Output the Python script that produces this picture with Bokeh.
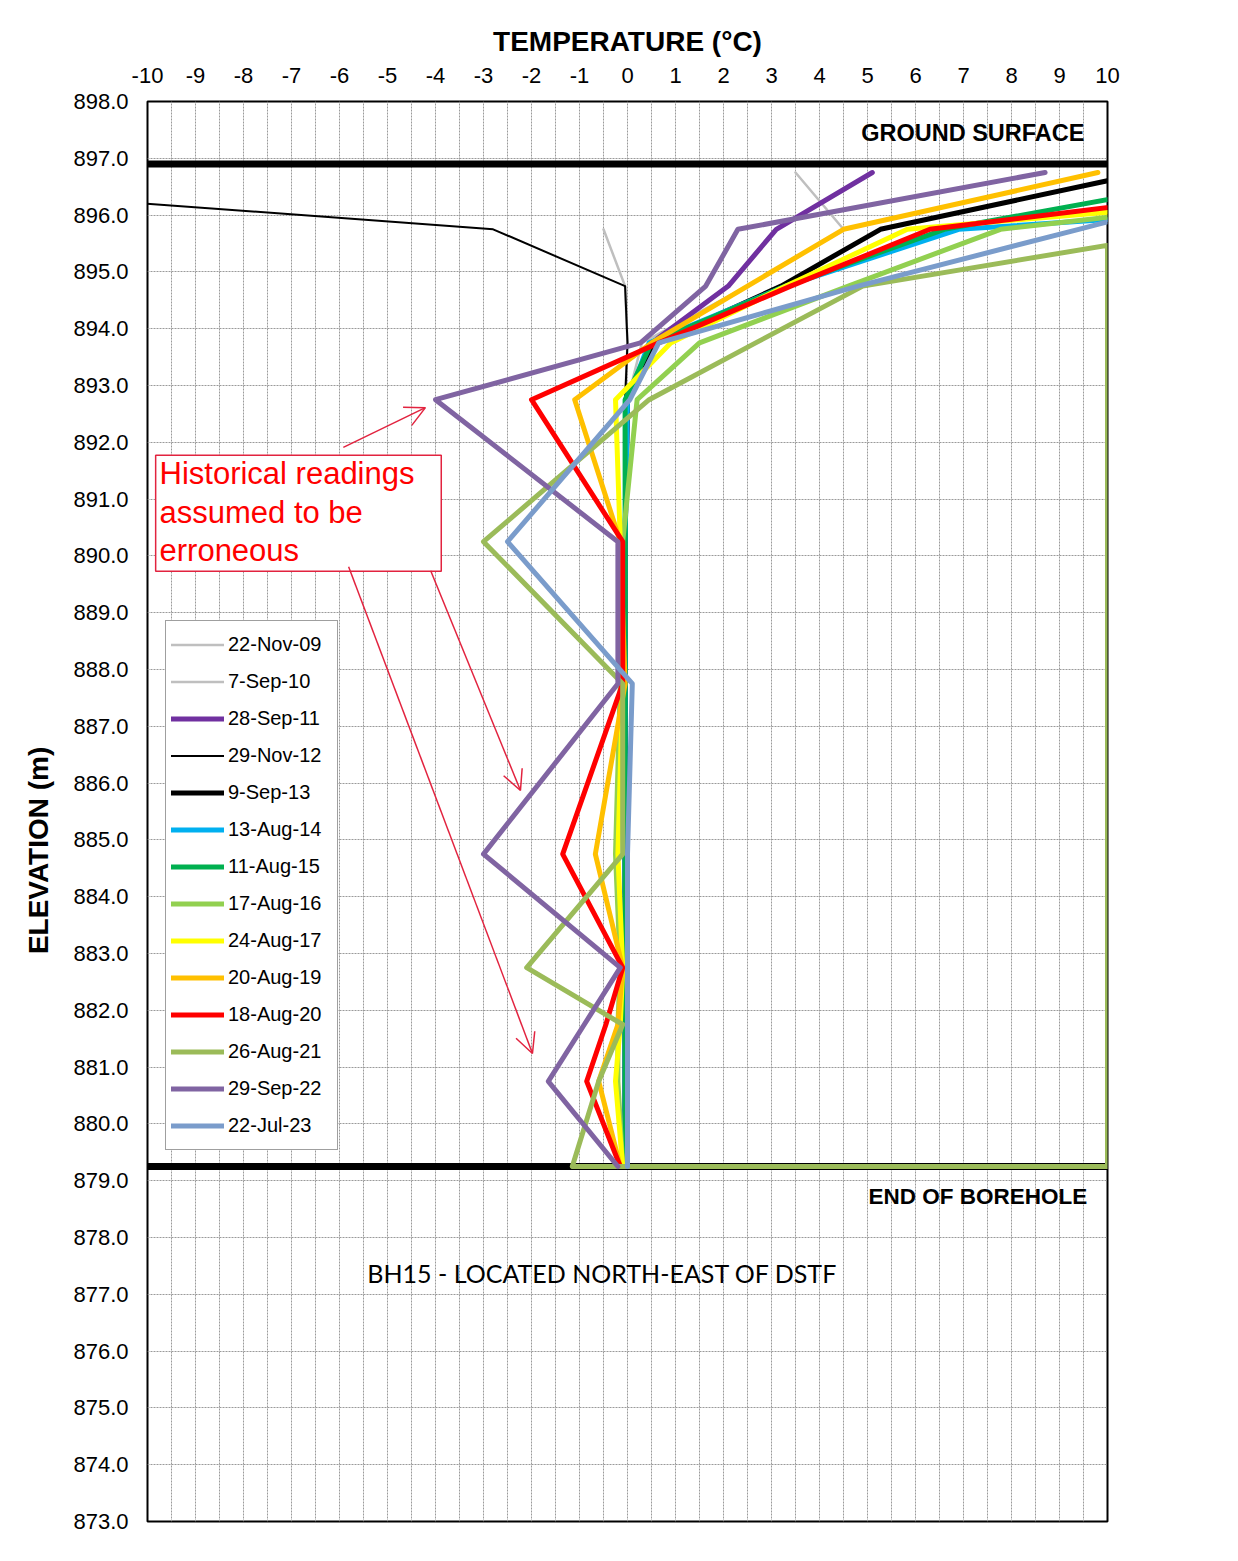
import math
from bokeh.plotting import figure
from bokeh.models import (Range1d, SingleIntervalTicker, NumeralTickFormatter, Label,
                          Arrow, OpenHead, BoxAnnotation, Span)
from bokeh.embed import file_html
from bokeh.resources import INLINE

NaN = float("nan")

# ---------------- data ----------------
ELEV = [896.75, 895.75, 894.75, 893.75, 892.75, 890.25, 887.75, 884.75, 882.75, 881.75, 880.75, 879.25]

T_22NOV09 = [3.5, 4.5, 2.5, 0.3, 0.0, -0.05, -0.05, -0.05, -0.05, -0.05, -0.05, -0.05]
T_07SEP10 = [NaN, -0.5, -0.05, 0.0, -0.05, -0.05, -0.05, -0.05, -0.05, -0.05, -0.05, -0.05]
T_28SEP11 = [5.1, 3.1, 2.1, 0.5, 0.0, -0.05, -0.05, -0.05, -0.05, -0.05, -0.05, -0.05]
T_29NOV12 = [-18.8, -2.8, -0.05, 0.0, -0.05, -0.05, -0.05, -0.05, -0.05, -0.05, -0.05, -0.05]
T_09SEP13 = [10.8, 5.27, 3.2, 0.6, 0.0, -0.05, -0.05, -0.05, -0.05, -0.05, -0.05, -0.05]
T_13AUG14 = [25.0, 6.9, 3.3, 0.45, 0.0, -0.05, -0.05, -0.05, -0.05, -0.05, -0.05, -0.05]
T_11AUG15 = [13.1, 6.6, 3.3, 0.5, -0.05, -0.05, -0.05, -0.05, -0.05, -0.05, -0.05, -0.05]
T_17AUG16 = [18.4, 7.77, 4.6, 1.5, 0.2, -0.1, -0.15, -0.25, -0.15, -0.2, -0.2, -0.1]
T_24AUG17 = [19.7, 5.83, 3.3, 0.9, -0.25, -0.15, -0.1, -0.2, -0.1, -0.15, -0.25, -0.1]
T_20AUG19 = [9.8, 4.5, 2.5, 0.5, -1.1, -0.15, -0.05, -0.67, -0.1, -0.2, -0.6, -0.15]
T_18AUG20 = [16.0, 6.3, 3.4, 0.65, -2.0, -0.1, -0.1, -1.35, -0.1, -0.45, -0.85, -0.15]
T_26AUG21 = [16.0, 12.0, 4.9, 2.67, 0.45, -3.0, -0.1, -0.1, -2.1, -0.1, -0.6, -1.15, 10.0, 10.0]
ELEV_26AUG21 = ELEV + [879.25, 895.45]
T_29SEP22 = [8.7, 2.3, 1.63, 0.27, -4.0, -0.2, -0.2, -3.0, -0.15, -0.9, -1.65, -0.2]
T_22JUL23 = [14.0, 9.4, 4.8, 0.65, 0.05, -2.5, 0.1, 0.0, 0.0, 0.0, 0.0, 0.0]

LABELS = ["22-Nov-09", "7-Sep-10", "28-Sep-11", "29-Nov-12", "9-Sep-13", "13-Aug-14",
          "11-Aug-15", "17-Aug-16", "24-Aug-17", "20-Aug-19", "18-Aug-20", "26-Aug-21",
          "29-Sep-22", "22-Jul-23"]
VALUES = [T_22NOV09, T_07SEP10, T_28SEP11, T_29NOV12, T_09SEP13, T_13AUG14, T_11AUG15,
          T_17AUG16, T_24AUG17, T_20AUG19, T_18AUG20, T_26AUG21, T_29SEP22, T_22JUL23]
ELEVS = [ELEV] * 11 + [ELEV_26AUG21] + [ELEV] * 2

GROUND_EL = 896.9
EOB_EL = 879.25

# ---------------- styles ----------------
COLORS = ["#BFBFBF", "#BFBFBF", "#7030A0", "#000000", "#000000", "#00B0F0", "#00B050",
          "#92D050", "#FFFF00", "#FFC000", "#FF0000", "#9BBB59", "#8064A2", "#7A9CCB"]
WIDTHS = [2.5, 2.5, 5, 2, 5, 5, 5, 5, 5, 5, 5, 5, 5, 5]

FONT = "Liberation Sans"
RED = "#FF0000"
CRIMSON = "#E2233F"

p = figure(width=1236, height=1555, x_range=Range1d(-10, 10), y_range=Range1d(873, 898),
           x_axis_location="above", output_backend="svg", toolbar_location=None,
           min_border_left=147, min_border_top=101, min_border_right=129, min_border_bottom=34)
p.background_fill_color = "white"
p.border_fill_color = "white"
p.outline_line_color = "black"
p.outline_line_width = 2

# axes
p.xaxis.ticker = SingleIntervalTicker(interval=1, num_minor_ticks=0)
p.xaxis.formatter = NumeralTickFormatter(format="0")
p.yaxis.ticker = SingleIntervalTicker(interval=1, num_minor_ticks=0)
p.yaxis.formatter = NumeralTickFormatter(format="0.0")
for ax in (p.xaxis, p.yaxis):
    ax.axis_line_color = None
    ax.major_tick_line_color = None
    ax.minor_tick_line_color = None
    ax.major_tick_out = 0
    ax.major_label_text_font = FONT
    ax.major_label_text_font_size = "22px"
    ax.major_label_text_color = "black"
    ax.axis_label_text_font = FONT
    ax.axis_label_text_font_style = "bold"
    ax.axis_label_text_font_size = "28px"
    ax.axis_label_text_color = "black"
p.xaxis.axis_label = "TEMPERATURE (°C)"
p.xaxis.major_label_standoff = 19
p.xaxis.axis_label_standoff = 8
p.yaxis.major_label_standoff = 19
# trailing no-break spaces push the rotated title below the frame centre, as in the original
p.yaxis.axis_label = "ELEVATION (m)" + "\u00a0" * 10
p.yaxis.axis_label_standoff = 16

# grid
p.xgrid.ticker = SingleIntervalTicker(interval=0.5, num_minor_ticks=0)
p.ygrid.ticker = SingleIntervalTicker(interval=1, num_minor_ticks=0)
for g in (p.xgrid, p.ygrid):
    g.grid_line_color = "#9a9a9a"
    g.grid_line_dash = "2 1"
    g.grid_line_width = 1

# ground surface / end of borehole
p.add_layout(Span(location=GROUND_EL, dimension="width", line_color="black", line_width=7, level="underlay"))
p.add_layout(Span(location=EOB_EL, dimension="width", line_color="black", line_width=7, level="underlay"))

# series
for lab, vals, ev, col, w in zip(LABELS, VALUES, ELEVS, COLORS, WIDTHS):
    p.line(vals, ev, line_color=col, line_width=w, line_join="round", line_cap="round",
           legend_label=lab)

# legend
lg = p.legend[0]
lg.location = (18, 371)
lg.label_text_font = FONT
lg.label_text_font_size = "20px"
lg.label_text_color = "black"
lg.glyph_width = 53
lg.glyph_height = 37
lg.label_height = 37
lg.label_width = 104
lg.spacing = 0
lg.padding = 5
lg.margin = 0
lg.label_standoff = 4
lg.border_line_color = "#404040"
lg.border_line_width = 1
lg.background_fill_color = "white"
lg.background_fill_alpha = 1

# text annotations
p.add_layout(Label(x=9.52, y=897.44, text="GROUND SURFACE", text_align="right", text_baseline="middle",
                   text_font=FONT, text_font_style="bold", text_font_size="23.5px", text_color="black"))
p.add_layout(Label(x=9.58, y=878.72, text="END OF BOREHOLE", text_align="right", text_baseline="middle",
                   text_font=FONT, text_font_style="bold", text_font_size="22.5px", text_color="black"))
p.add_layout(Label(x=-5.42, y=877.38, text="BH15 - LOCATED NORTH-EAST OF DSTF", text_align="left",
                   text_baseline="middle", text_font="Lato", text_font_size="25px", text_color="black"))

# red call-out
p.add_layout(BoxAnnotation(left=-9.83, right=-3.88, top=891.77, bottom=889.73, fill_color="white",
                           fill_alpha=1, line_color=CRIMSON, line_alpha=1, line_width=1.5))
for txt, yy in zip(["Historical readings", "assumed to be", "erroneous"], [891.45, 890.77, 890.10]):
    p.add_layout(Label(x=-9.75, y=yy, text=txt, text_align="left", text_baseline="middle",
                       text_font=FONT, text_font_size="31px", text_color=RED))
for xs, ys, xe, ye in [(-5.92, 891.91, -4.21, 892.61), (-4.1, 889.74, -2.23, 885.87),
                       (-5.81, 889.81, -1.98, 881.24)]:
    p.add_layout(Arrow(end=OpenHead(size=20, line_color=CRIMSON, line_width=1.5),
                       x_start=xs, y_start=ys, x_end=xe, y_end=ye,
                       line_color=CRIMSON, line_width=1.5))

open("out.html", "w").write(file_html(p, INLINE))
